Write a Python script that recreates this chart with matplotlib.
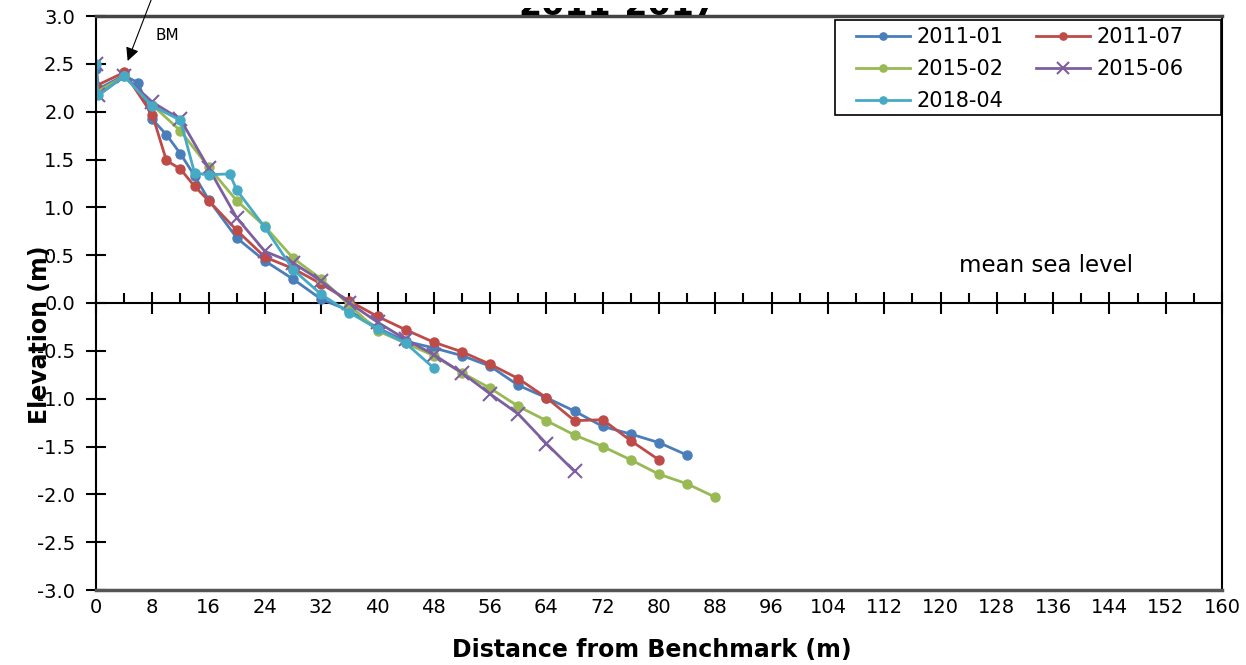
import matplotlib
matplotlib.use("Agg")
import matplotlib.pyplot as plt
from matplotlib.ticker import MultipleLocator, FormatStrFormatter
from matplotlib.transforms import Bbox, TransformedBbox
from matplotlib.patches import Rectangle

# ---------------- data ----------------
labels = ["2011-01", "2011-07", "2015-02", "2015-06", "2018-04"]

x_2011_01 = [0, 0.4, 4, 6, 8, 10, 12, 14, 16, 20, 24, 28, 32, 36, 40, 44, 48, 52, 56, 60, 64, 68, 72, 76, 80, 84]
y_2011_01 = [2.45, 2.24, 2.38, 2.30, 1.92, 1.76, 1.56, 1.33, 1.08, 0.68, 0.44, 0.25, 0.04, -0.08, -0.26, -0.40, -0.47, -0.55, -0.66, -0.86, -0.99, -1.13, -1.29, -1.37, -1.46, -1.59]

x_2011_07 = [0, 4, 8, 10, 12, 14, 16, 20, 24, 28, 32, 36, 40, 44, 48, 52, 56, 60, 64, 68, 72, 76, 80]
y_2011_07 = [2.27, 2.41, 1.97, 1.49, 1.40, 1.22, 1.07, 0.76, 0.48, 0.36, 0.20, 0.02, -0.14, -0.28, -0.41, -0.51, -0.64, -0.79, -0.99, -1.23, -1.22, -1.44, -1.64]

x_2015_02 = [0, 4, 8, 12, 16, 20, 24, 28, 32, 36, 40, 44, 48, 52, 56, 60, 64, 68, 72, 76, 80, 84, 88]
y_2015_02 = [2.20, 2.37, 2.07, 1.80, 1.42, 1.07, 0.80, 0.47, 0.25, -0.02, -0.29, -0.42, -0.55, -0.73, -0.89, -1.08, -1.23, -1.38, -1.50, -1.64, -1.79, -1.89, -2.03]

x_2015_06 = [0, 0.3, 4, 8, 12, 16, 20, 24, 28, 32, 36, 40, 44, 48, 52, 56, 60, 64, 68]
y_2015_06 = [2.50, 2.17, 2.37, 2.10, 1.92, 1.41, 0.89, 0.54, 0.42, 0.23, 0.00, -0.20, -0.38, -0.54, -0.73, -0.95, -1.16, -1.47, -1.76]

x_2018_04 = [0, 0.3, 4, 8, 12, 14, 16, 19, 20, 24, 28, 32, 36, 40, 44, 48]
y_2018_04 = [2.50, 2.17, 2.37, 2.06, 1.91, 1.36, 1.34, 1.35, 1.18, 0.79, 0.35, 0.09, -0.10, -0.27, -0.42, -0.68]

xs = [x_2011_01, x_2011_07, x_2015_02, x_2015_06, x_2018_04]
ys = [y_2011_01, y_2011_07, y_2015_02, y_2015_06, y_2018_04]
colors = ["#4A7EBB", "#BE4B48", "#98B954", "#7D5FA0", "#46AAC5"]
markers = ["o", "o", "o", "x", "o"]

x_ticks = list(range(0, 161, 8))

# ---------------- figure ----------------
W, H = 1246, 665
fig = plt.figure(figsize=(W / 100, H / 100), dpi=100)
AX_L, AX_R, AX_T, AX_B = 96, 1222, 16, 590
ax = fig.add_axes([AX_L / W, 1 - AX_B / H, (AX_R - AX_L) / W, (AX_B - AX_T) / H])


def px2ax(px, py):
    return (px - AX_L) / (AX_R - AX_L), 1 - (py - AX_T) / (AX_B - AX_T)


handles = []
for x, y, c, m, lab in zip(xs, ys, colors, markers, labels):
    if m == "x":
        h, = ax.plot(x, y, color=c, lw=2.0, marker="x", ms=10, mew=1.5, label=lab)
    else:
        h, = ax.plot(x, y, color=c, lw=2.0, marker="o", ms=6.5, label=lab)
    handles.append(h)

ax.set_xlim(0, 160)
ax.set_ylim(-3.0, 3.0)
ax.yaxis.set_major_locator(MultipleLocator(0.5))
ax.yaxis.set_major_formatter(FormatStrFormatter("%.1f"))
ax.set_xticks(x_ticks)
ax.tick_params(axis="x", length=0, pad=6, labelsize=14)
ax.tick_params(axis="y", direction="inout", length=14, width=1.5, labelsize=14, pad=8)
for s in ax.spines.values():
    s.set_linewidth(1.5)
    s.set_color("black")
ax.spines["top"].set_linewidth(2.5)
ax.spines["top"].set_color("#444444")
ax.spines["bottom"].set_linewidth(2.5)
ax.spines["bottom"].set_color("#555555")

# zero line with ticks
ax2 = ax.twiny()
ax2.set_xlim(0, 160)
for k in ["top", "left", "right"]:
    ax2.spines[k].set_visible(False)
ax2.spines["bottom"].set_position(("data", 0))
ax2.spines["bottom"].set_linewidth(1.5)
ax2.xaxis.set_ticks_position("bottom")
ax2.xaxis.set_major_locator(MultipleLocator(8))
ax2.xaxis.set_minor_locator(MultipleLocator(4))
ax2.tick_params(axis="x", which="major", direction="inout", length=16, width=1.5, labelbottom=False, labeltop=False)
ax2.tick_params(axis="x", which="minor", direction="in", length=7, width=1.5)
ax2.set_zorder(0)
ax.set_zorder(1)
ax.patch.set_visible(False)

# legend (row-major order like the reference)
order = [0, 2, 4, 1, 3]
lx, ly = px2ax(856, 27)
leg = ax.legend([handles[i] for i in order], [labels[i] for i in order], ncol=2,
                loc="upper left", bbox_to_anchor=(lx, ly), fontsize=15,
                frameon=False, handlelength=2.6, columnspacing=1.55, borderpad=0.0,
                labelspacing=0.58, handletextpad=0.3, borderaxespad=0.0, markerscale=0.8)
leg.set_zorder(5)
rx0, ry1 = px2ax(835, 20)
rx1, ry0 = px2ax(1221, 115)
ax.add_patch(Rectangle((rx0, ry0), rx1 - rx0, ry1 - ry0, transform=ax.transAxes,
                       facecolor="white", edgecolor="black", lw=1.2, zorder=4))

ax.text(135, 0.39, "mean sea level", fontsize=16.5, ha="center", va="center")
ax.annotate("", xy=(4.5, 2.53), xytext=(8.0, 3.2), annotation_clip=False,
            arrowprops=dict(arrowstyle="-|>", color="black", lw=0.8, mutation_scale=20,
                            shrinkA=0, shrinkB=0))
ax.text(8.5, 2.8, "BM", fontsize=11, ha="left", va="center")

fig.text(40 / W, 1 - 335 / H, "Elevation (m)", rotation=90, fontsize=17, fontweight="bold",
         ha="center", va="center")
fig.text(652 / W, 1 - 650 / H, "Distance from Benchmark (m)", fontsize=17, fontweight="bold",
         ha="center", va="center")
title = fig.text(618 / W, 1 - 15 / H, "2011-2017", fontsize=24, fontweight="bold",
                 ha="center", va="baseline")
clip = TransformedBbox(Bbox([[0, 1 - 15 / H], [1, 1 - 8 / H]]), fig.transFigure)
title.set_clip_box(clip)
title.set_clip_on(True)

fig.savefig("out.png", dpi=100)
